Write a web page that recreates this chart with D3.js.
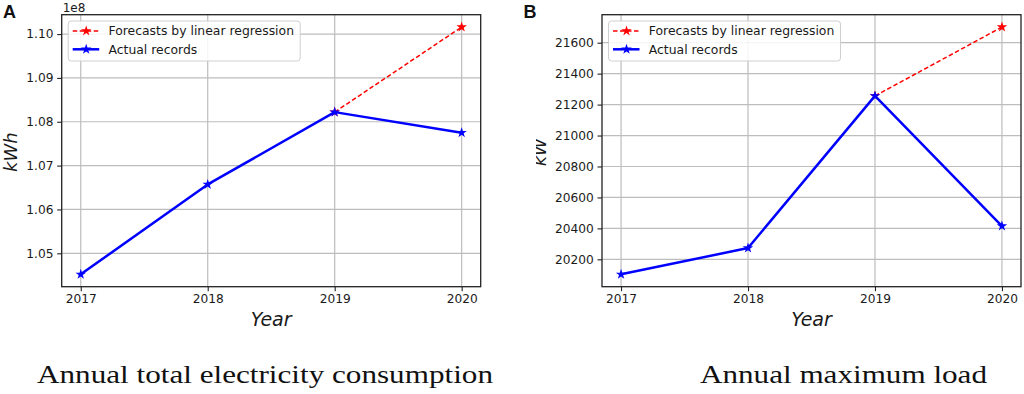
<!DOCTYPE html>
<html>
<head>
<meta charset="utf-8">
<script src="https://cdn.jsdelivr.net/npm/d3@7"></script>
<style>
  html, body { margin: 0; padding: 0; background: #fff; }
  svg { display: block; }
</style>
</head>
<body>
<svg id="chart" width="1024" height="394"></svg>
<script>
// data
const years = [2017, 2018, 2019, 2020];

const consumptionActual = [1.0452e8, 1.0657e8, 1.0822e8, 1.0775e8];
const consumptionForecastYears = [2019, 2020];
const consumptionForecast = [1.0822e8, 1.1016e8];
const consumptionTicks = [1.05e8, 1.06e8, 1.07e8, 1.08e8, 1.09e8, 1.10e8];

const loadActual = [20103, 20273, 21256, 20415];
const loadForecastYears = [2019, 2020];
const loadForecast = [21256, 21701];
const loadTicks = [20200, 20400, 20600, 20800, 21000, 21200, 21400, 21600];

const legendLabels = ['Forecasts by linear regression', 'Actual records'];
const captions = ['Annual total electricity consumption', 'Annual maximum load'];

const SANS = '"DejaVu Sans", sans-serif';
const svg = d3.select('#chart');
const star = d3.symbol().type(d3.symbolStar).size(34);

function Panel() {
  let left, right, top = 14.7, bottom = 286.7;

  function my(g, p) {
    const allVals = p.actual.concat(p.forecast);
    const lo = d3.min(allVals), hi = d3.max(allVals);
    const pad = (hi - lo) * 0.05;

    const x = d3.scaleLinear()
      .domain([years[0] - 0.15, years[years.length - 1] + 0.15])
      .range([left, right]);
    const y = d3.scaleLinear()
      .domain([lo - pad, hi + pad])
      .range([bottom, top]);

    // grid
    g.append('g').selectAll('line')
      .data(years)
      .enter().append('line')
        .attr('x1', d => x(d)).attr('x2', d => x(d))
        .attr('y1', top).attr('y2', bottom)
        .attr('stroke', '#bdbdbd').attr('stroke-width', 1.2);
    g.append('g').selectAll('line')
      .data(p.ticks)
      .enter().append('line')
        .attr('y1', d => y(d)).attr('y2', d => y(d))
        .attr('x1', left).attr('x2', right)
        .attr('stroke', '#bdbdbd').attr('stroke-width', 1.2);

    // axes
    const xAxis = g.append('g')
      .attr('transform', `translate(0, ${bottom})`)
      .call(d3.axisBottom(x)
              .tickValues(years)
              .tickFormat(d3.format('d'))
              .tickSizeInner(4.5)
              .tickSizeOuter(0)
              .tickPadding(3.5));
    const yAxis = g.append('g')
      .attr('transform', `translate(${left}, 0)`)
      .call(d3.axisLeft(y)
              .tickValues(p.ticks)
              .tickFormat(p.format)
              .tickSizeInner(4.5)
              .tickSizeOuter(0)
              .tickPadding(3.8));
    [xAxis, yAxis].forEach(a => {
      a.select('.domain').remove();
      a.selectAll('line').attr('stroke', '#222').attr('stroke-width', 1.1);
      a.selectAll('text')
        .attr('font-family', SANS)
        .attr('font-size', 12.2)
        .attr('fill', '#1a1a1a');
    });

    // frame
    g.append('rect')
      .attr('x', left).attr('y', top)
      .attr('width', right - left).attr('height', bottom - top)
      .attr('fill', 'none').attr('stroke', '#222').attr('stroke-width', 1.3);

    const line = d3.line().x(d => x(d[0])).y(d => y(d[1]));
    const fc = p.forecastYears.map((yr, i) => [yr, p.forecast[i]]);
    const ac = years.map((yr, i) => [yr, p.actual[i]]);

    g.append('path')
      .datum(fc)
      .attr('d', line)
      .attr('fill', 'none')
      .attr('stroke', '#ff0000')
      .attr('stroke-width', 1.5)
      .attr('stroke-dasharray', '4.5,2.5');
    g.selectAll('.fstar')
      .data(fc)
      .enter().append('path')
        .attr('d', star)
        .attr('transform', d => `translate(${x(d[0])}, ${y(d[1])})`)
        .attr('fill', '#ff0000');

    g.append('path')
      .datum(ac)
      .attr('d', line)
      .attr('fill', 'none')
      .attr('stroke', '#0000ff')
      .attr('stroke-width', 2.5)
      .attr('stroke-linejoin', 'round');
    g.selectAll('.astar')
      .data(ac)
      .enter().append('path')
        .attr('d', star)
        .attr('transform', d => `translate(${x(d[0])}, ${y(d[1])})`)
        .attr('fill', '#0000ff');

    // legend
    const lx = left + 6.5, ly = top + 6.3;
    const leg = g.append('g');
    leg.append('rect')
      .attr('x', lx).attr('y', ly)
      .attr('width', 232).attr('height', 40)
      .attr('rx', 3)
      .attr('fill', '#fff').attr('fill-opacity', 0.85)
      .attr('stroke', '#d0d0d0').attr('stroke-width', 1);
    const styles = [
      { color: '#ff0000', width: 1.5, dash: '4.5,2.5' },
      { color: '#0000ff', width: 2.5, dash: null }
    ];
    legendLabels.forEach((lab, i) => {
      const cy = ly + 10 + i * 18.3;
      leg.append('line')
        .attr('x1', lx + 4.5).attr('x2', lx + 31)
        .attr('y1', cy).attr('y2', cy)
        .attr('stroke', styles[i].color)
        .attr('stroke-width', styles[i].width)
        .attr('stroke-dasharray', styles[i].dash);
      leg.append('path')
        .attr('d', star)
        .attr('transform', `translate(${lx + 18}, ${cy})`)
        .attr('fill', styles[i].color);
      leg.append('text')
        .attr('x', lx + 40.3).attr('y', cy + 4.4)
        .attr('font-family', SANS)
        .attr('font-size', 12.4)
        .attr('fill', '#1a1a1a')
        .text(lab);
    });

    // axis labels
    g.append('text')
      .attr('x', (left + right) / 2).attr('y', 326)
      .attr('text-anchor', 'middle')
      .attr('font-family', SANS)
      .attr('font-size', 19)
      .attr('font-style', 'italic')
      .attr('fill', '#1a1a1a')
      .text('Year');

    const ylg = g.append('g');
    if (p.clipLabel) ylg.attr('clip-path', `url(#${p.clipLabel})`);
    ylg.append('text')
      .attr('transform', `translate(${p.yLabelX}, ${(top + bottom) / 2 + 1.5}) rotate(-90)`)
      .attr('text-anchor', 'middle')
      .attr('font-family', SANS)
      .attr('font-size', 18)
      .attr('font-style', 'italic')
      .attr('fill', '#1a1a1a')
      .text(p.yLabel);

    if (p.offset) {
      g.append('text')
        .attr('x', left + 1).attr('y', 11.5)
        .attr('font-family', SANS)
        .attr('font-size', 12)
        .attr('fill', '#1a1a1a')
        .text(p.offset);
    }

    g.append('text')
      .attr('x', p.letterX).attr('y', 18.4)
      .attr('font-family', '"Liberation Sans", Arial, sans-serif')
      .attr('font-weight', 'bold')
      .attr('font-size', 18)
      .attr('fill', '#111')
      .text(p.letter);
  }

  my.left = function (_) { return arguments.length ? (left = _, my) : left; };
  my.right = function (_) { return arguments.length ? (right = _, my) : right; };
  return my;
}

// panel B's y label is cut on its left side in the original figure
svg.append('defs').append('clipPath')
  .attr('id', 'clipB')
  .append('rect')
    .attr('x', 536).attr('y', 0).attr('width', 60).attr('height', 394);

const fmt8 = d => (d / 1e8).toFixed(2);

Panel().left(61.7).right(480.7)(svg.append('g'), {
  actual: consumptionActual,
  forecastYears: consumptionForecastYears,
  forecast: consumptionForecast,
  ticks: consumptionTicks,
  format: fmt8,
  yLabel: 'kWh',
  yLabelX: 16.7,
  offset: '1e8',
  letter: 'A',
  letterX: 3
});

Panel().left(602).right(1021)(svg.append('g'), {
  actual: loadActual,
  forecastYears: loadForecastYears,
  forecast: loadForecast,
  ticks: loadTicks,
  format: d3.format('d'),
  yLabel: 'kW',
  yLabelX: 545.5,
  clipLabel: 'clipB',
  letter: 'B',
  letterX: 523.5
});

// captions under the panels: size the serif font so each line fills its width
const capX = [37, 700];
const capW = [456, 287];
svg.selectAll('.caption')
  .data(captions)
  .enter().append('text')
    .attr('class', 'caption')
    .attr('x', (d, i) => capX[i])
    .attr('y', 383.3)
    .attr('font-family', '"Liberation Serif", "DejaVu Serif", serif')
    .attr('font-size', 20)
    .attr('fill', '#111')
    .text(d => d)
    .each(function (d, i) {
      const w = this.getComputedTextLength();
      const fs = Math.min(26, 20 * capW[i] / w);
      d3.select(this).attr('font-size', fs)
        .attr('textLength', capW[i])
        .attr('lengthAdjust', 'spacingAndGlyphs');
    });
</script>
</body>
</html>
